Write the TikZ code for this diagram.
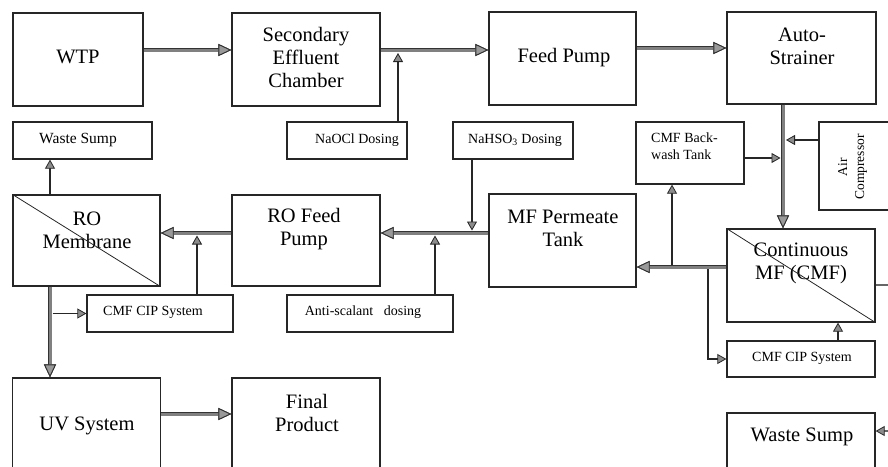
\documentclass[tikz,border=0pt]{standalone}
\usepackage{fontspec}
\setmainfont{Liberation Serif}
\usetikzlibrary{arrows.meta}
\tikzset{
  box/.style={draw=black!85, line width=1.3pt, inner sep=0pt},
  big/.style={font=\fontsize{20.5}{23}\selectfont, align=center, inner sep=0pt},
  small/.style={font=\fontsize{14}{17}\selectfont, align=center, inner sep=0pt},
  pipehead/.tip={Triangle[length=13pt, width=12pt, fill=black!40, color=black!80, line width=0.9pt]},
  thinhead/.tip={Triangle[length=9pt, width=10pt, fill=black!45, color=black!85, line width=0.8pt]},
  pipe/.style={draw=black!50, line width=3pt, preaction={draw=black!80, line width=4.8pt}, -{pipehead}},
  thinarrow/.style={draw=black!85, line width=1.1pt, -{thinhead}},
  diag/.style={draw=black!85, line width=0.8pt},
}
\begin{document}
\begin{tikzpicture}[x=1pt, y=-1pt]
\useasboundingbox (0,0) rectangle (888,466);
\clip (0,0) rectangle (888,466);
% top row
\node[box, minimum width=130, minimum height=93] (wtp) at (78,59.5) {};
\node[big] (wtpt) at (78,57) {WTP};
\node[box, minimum width=148, minimum height=93] (sec) at (306,59.5) {};
\node[big] (sect) at (306,57.5) {Secondary\\Effluent\\Chamber};
\node[box, minimum width=147, minimum height=93] (fp) at (562.5,58.5) {};
\node[big] (fpt) at (564,58) {Feed Pump};
\node[box, minimum width=149, minimum height=92] (as) at (801.5,58) {};
\node[big] (ast) at (802,46.5) {Auto-\\Strainer};
% small boxes second row
\node[box, minimum width=139, minimum height=37] (ws1) at (82.5,140.5) {};
\node[small, font=\fontsize{15.5}{18}\selectfont] (ws1t) at (78,140.5) {Waste Sump};
\node[box, minimum width=120, minimum height=37] (naocl) at (347,140.5) {};
\node[small] (naoclt) at (357,140.5) {NaOCl Dosing};
\node[box, minimum width=120, minimum height=37] (nahso) at (513,140.5) {};
\node[small] (nahsot) at (515,140) {NaHSO\textsubscript{3} Dosing};
\node[box, minimum width=108, minimum height=62] (bw) at (690,153) {};
\node[small, align=left, anchor=west] (bwt) at (651,146.5) {CMF Back-\\wash Tank};
\node[box, minimum width=80, minimum height=88] (air) at (859,166) {};
\node[small, font=\fontsize{13.5}{17}\selectfont, rotate=90] (airt) at (852.5,167) {Air\\Compressor};
% third row
\node[box, minimum width=147, minimum height=91] (rom) at (86.5,240.5) {};
\node[big] (romt) at (87,230) {RO\\Membrane};
\node[box, minimum width=148, minimum height=91] (rofp) at (306,240.5) {};
\node[big] (rofpt) at (304,229.5) {RO Feed\\Pump};
\node[box, minimum width=147, minimum height=93] (mfpt) at (562.5,240.5) {};
\node[big] (mfptt) at (563,228) {MF Permeate\\Tank};
\node[box, minimum width=148, minimum height=93] (cmf) at (801,275.5) {};
\node[big] (cmft) at (801,263.5) {Continuous\\MF (CMF)};
% small boxes fourth row
\node[box, minimum width=146, minimum height=37] (cip1) at (160,313.5) {};
\node[small] (cip1t) at (153,312) {CMF CIP System};
\node[box, minimum width=166, minimum height=37] (anti) at (370,313.5) {};
\node[small] (antit) at (363,312) {Anti-scalant\ \ \ dosing};
\node[box, minimum width=148, minimum height=36] (cip2) at (801,359) {};
\node[small] (cip2t) at (802,358) {CMF CIP System};
% bottom row
\node[box, minimum width=148, minimum height=93] (uv) at (86.5,424.5) {};
\node[big] (uvt) at (87,426) {UV System};
\node[box, minimum width=148, minimum height=93] (fin) at (306,424.5) {};
\node[big] (fint) at (307,413) {Final\\Product};
\node[box, minimum width=148, minimum height=93] (ws2) at (801,459.5) {};
\node[big] (ws2t) at (802,437) {Waste Sump};
% diagonals
\draw[diag] (rom.north west) -- (rom.south east);
\draw[diag] (cmf.north west) -- (cmf.south east);
% junction coordinates
\coordinate (j1) at (398,53);
\coordinate (j2) at (786,140);
\coordinate (j3) at (780.5,158);
\coordinate (j4) at (672,264.8);
\coordinate (j5) at (708,269.2);
\coordinate (j6) at (472,230.5);
\coordinate (j7) at (435,235.5);
\coordinate (j8) at (197,235.5);
\coordinate (j9) at (52.5,313.5);
\coordinate (far1) at (905,285);
\coordinate (far2) at (905,431);
% pipes
\draw[pipe] (wtp.east |- 0,50) -- (sec.west |- 0,50);
\draw[pipe] (sec.east |- 0,50) -- (fp.west |- 0,50);
\draw[pipe] (fp.east |- 0,48) -- (as.west |- 0,48);
\draw[pipe] (783,0 |- as.south) -- (783,0 |- cmf.north);
\draw[pipe] (cmf.west |- 0,267) -- (mfpt.east |- 0,267);
\draw[pipe] (mfpt.west |- 0,233) -- (rofp.east |- 0,233);
\draw[pipe] (rofp.west |- 0,233) -- (rom.east |- 0,233);
\draw[pipe] (50,0 |- rom.south) -- (50,0 |- uv.north);
\draw[pipe] (uv.east |- 0,414) -- (fin.west |- 0,414);
% thin arrows
\draw[thinarrow] (398,0 |- naocl.north) -- (j1);
\draw[thinarrow] (air.west |- j2) -- (j2);
\draw[thinarrow] (bw.east |- j3) -- (j3);
\draw[thinarrow] (j4) -- (j4 |- bw.south);
\draw[thinarrow] (j5) |- (cip2.west);
\draw[thinarrow] (838,0 |- cip2.north) -- (838,0 |- cmf.south);
\draw[thinarrow, draw=black!60] (cmf.east |- far1) -- (far1) -- (far2) -- (ws2.east |- far2);
\draw[thinarrow] (472,0 |- nahso.south) -- (j6);
\draw[thinarrow] (435,0 |- anti.north) -- (j7);
\draw[thinarrow] (197,0 |- cip1.north) -- (j8);
\draw[thinarrow] (50,0 |- rom.north) -- (50,0 |- ws1.south);
\draw[thinarrow] (j9) -- (cip1.west);
\end{tikzpicture}
\end{document}
